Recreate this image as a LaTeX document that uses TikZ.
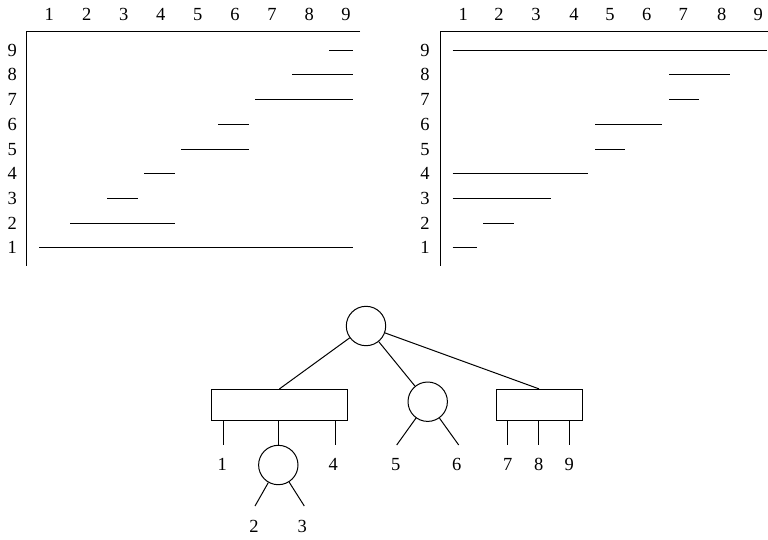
\documentclass[tikz,border=0pt]{standalone}
\usepackage{fontspec}
\setmainfont{Liberation Serif}
\begin{document}
\begin{tikzpicture}[x=1pt,y=-1pt,
  lbl/.style={font=\fontsize{18.5}{21}\selectfont, inner sep=0pt, anchor=center, text height=12.3pt, text depth=0pt},
  ln/.style={line width=1pt, black},
  circ/.style={draw, line width=1pt, circle, minimum size=39.4pt, inner sep=0pt},
  box/.style={draw, line width=1pt, rectangle, minimum height=30.7pt, inner sep=0pt}]
\useasboundingbox (0,0) rectangle (768,539);

% ---------- left panel ----------
\foreach \i/\x in {1/49.3,2/86.7,3/123.7,4/160.7,5/197.7,6/235,7/272,8/309.3,9/346}
  \node[lbl] (lc\i) at (\x,14) {\i};
\foreach \i/\y in {9/50,8/74.7,7/99.3,6/124.3,5/149,4/173.3,3/198.3,2/223,1/247.7}
  \node[lbl] (lr\i) at (12.3,\y) {\i};
\coordinate (LO) at (26.7,31.7);
\draw[ln] (360,31.7) -- (LO) -- (26.7,265.7);
\foreach \y/\a/\b in {50/329.3/353.3, 74.7/292.3/353.3, 99.3/255/353.3, 124.3/218.3/248.7,
  149/181/248.7, 173.3/144/174.7, 198.3/107/137.7, 223/70/174.7, 247.7/39/353.3}
  \draw[ln] (\a,\y) -- (\b,\y);

% ---------- right panel ----------
\foreach \i/\x in {1/463.3,2/499,3/536,4/574,5/610,6/646.7,7/683.3,8/721.7,9/758.3}
  \node[lbl] (rc\i) at (\x,14) {\i};
\foreach \i/\y in {9/50,8/74.7,7/99.3,6/124.3,5/149,4/173.3,3/198.3,2/223,1/247.7}
  \node[lbl] (rr\i) at (425,\y) {\i};
\coordinate (RO) at (440.7,31.7);
\draw[ln] (768,31.7) -- (RO) -- (440.7,265.7);
\foreach \y/\a/\b in {50/452.7/766.7, 74.7/669/730, 99.3/669/699.3, 124.3/595/662.3,
  149/595/625.3, 173.3/452.7/588.3, 198.3/452.7/551, 223/483.3/514, 247.7/452.7/477.3}
  \draw[ln] (\a,\y) -- (\b,\y);

% ---------- tree ----------
\node[circ] (root) at (366,326) {};
\node[box, minimum width=135.6pt] (lb) at (279.5,404.7) {};
\node[circ] (mid) at (427.7,401.7) {};
\node[box, minimum width=86pt] (rb) at (539,404.7) {};
\node[circ] (cc) at (278.3,465) {};

\draw[ln] (root) -- (lb.north);
\draw[ln] (root) -- (mid);
\draw[ln] (root) -- (rb.north);

% leaf labels
\node[lbl] (t1) at (222.3,464) {1};
\node[lbl] (t4) at (333.3,464) {4};
\node[lbl] (t2) at (254,526.7) {2};
\node[lbl] (t3) at (302.3,526.7) {3};
\node[lbl] (t5) at (395.7,464) {5};
\node[lbl] (t6) at (456.7,464) {6};
\node[lbl] (t7) at (507.7,464) {7};
\node[lbl] (t8) at (538.7,464) {8};
\node[lbl] (t9) at (569.3,464) {9};

% free ends of leaf connectors
\coordinate (e1) at (223.3,445);
\coordinate (e4) at (335,445);
\coordinate (e2) at (255,506);
\coordinate (e3) at (304.3,506);
\coordinate (e5) at (396.7,445);
\coordinate (e6) at (458.7,445);
\coordinate (e7) at (507.7,445);
\coordinate (e8) at (538.7,445);
\coordinate (e9) at (569.3,445);

\draw[ln] (lb.south -| e1) -- (e1);
\draw[ln] (lb.south -| e4) -- (e4);
\draw[ln] (lb.south -| cc.north) -- (cc.north);
\draw[ln] (cc) -- (e2);
\draw[ln] (cc) -- (e3);
\draw[ln] (mid) -- (e5);
\draw[ln] (mid) -- (e6);
\draw[ln] (rb.south -| e7) -- (e7);
\draw[ln] (rb.south -| e8) -- (e8);
\draw[ln] (rb.south -| e9) -- (e9);
\end{tikzpicture}
\end{document}
